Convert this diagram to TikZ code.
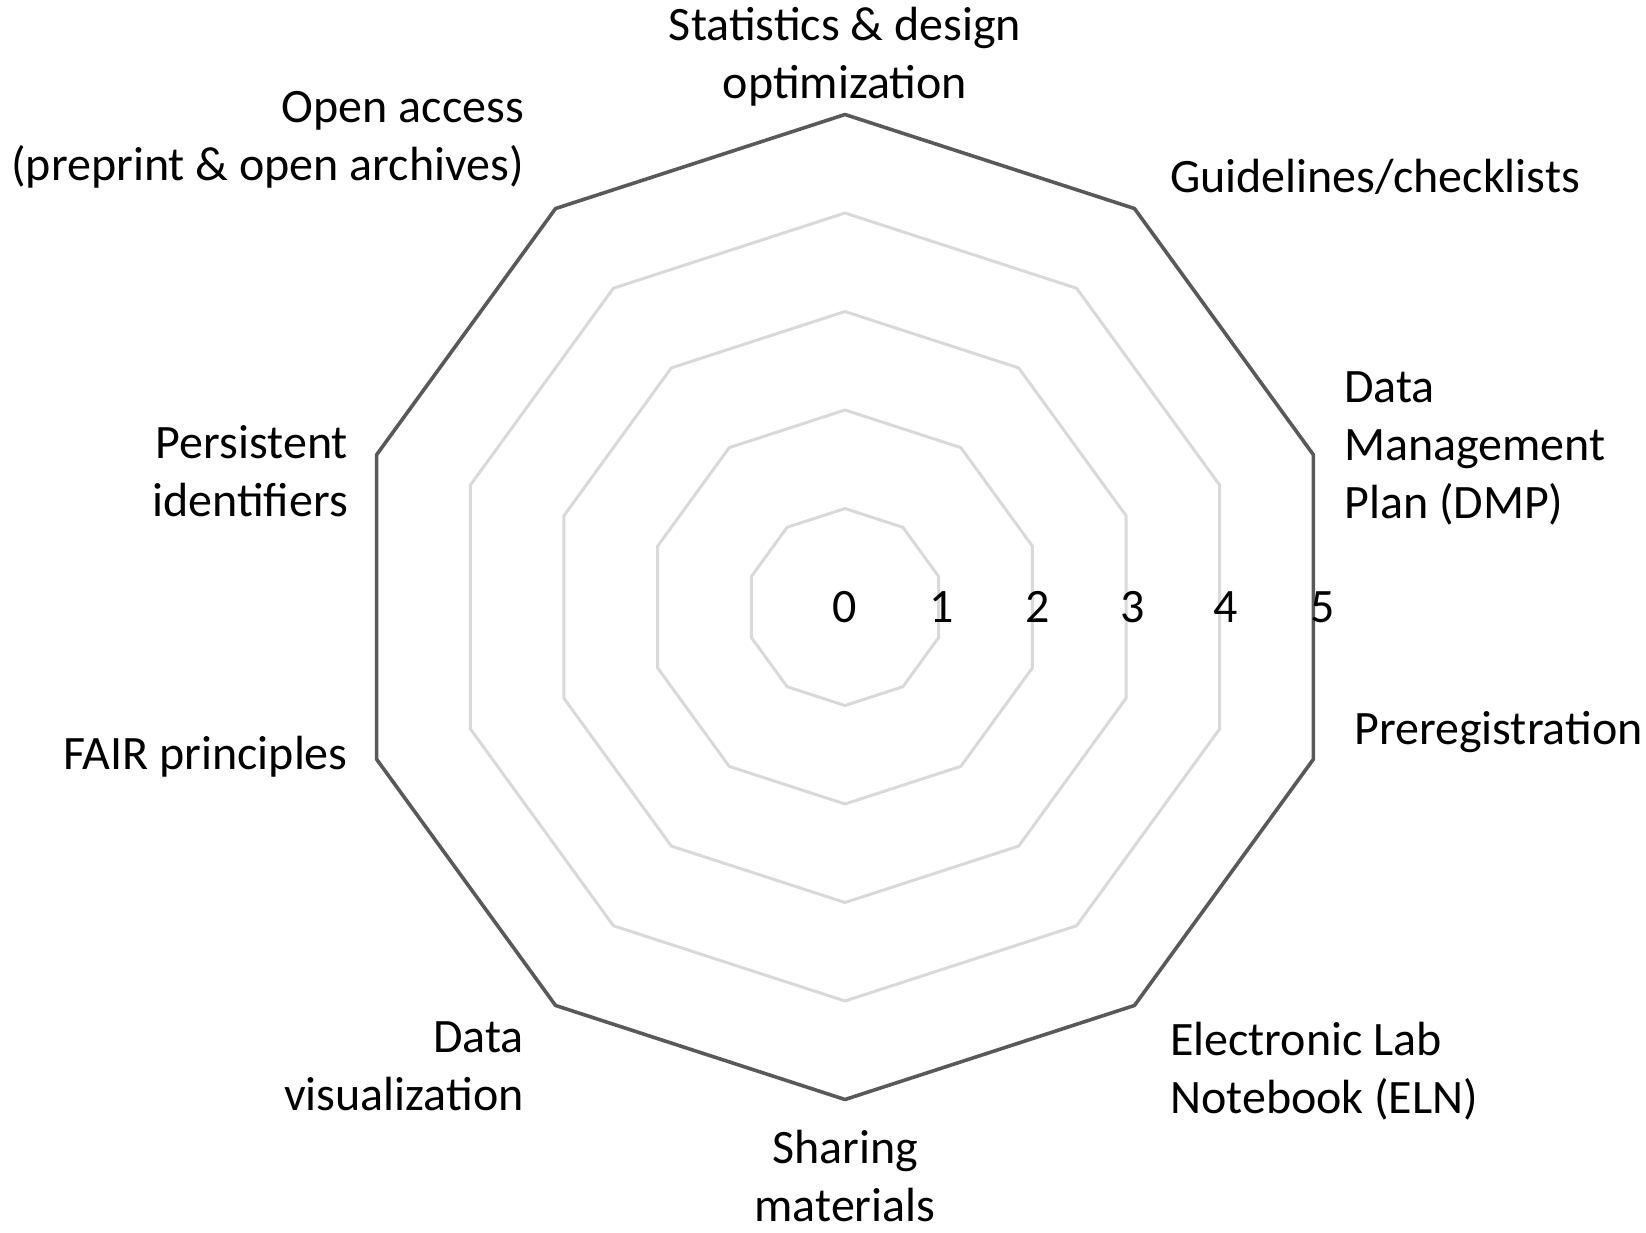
\documentclass[tikz,border=0pt]{standalone}
\usepackage{fontspec}
\setmainfont{Carlito}
\definecolor{ringc}{HTML}{D9D9D9}
\definecolor{outerc}{HTML}{595959}
\begin{document}
\begin{tikzpicture}[x=1pt,y=1pt,
  lbl/.style={font=\fontsize{48}{58}\selectfont, inner sep=0pt},
  ring/.style={draw=ringc, line width=3pt, line join=round},
  outer/.style={draw=outerc, line width=3.6pt, line join=round}]
\useasboundingbox (0,0) rectangle (1646,-1233);
\begin{scope}[shift={(845,-607)}]
  \foreach \k in {1,...,4}
    \draw[ring] (90:\k*98.5) \foreach \a in {126,162,...,414} { -- (\a:\k*98.5)} -- cycle;
  \draw[outer] (90:492.5) \foreach \a in {126,162,...,414} { -- (\a:492.5)} -- cycle;
\end{scope}
% scale labels
\node[lbl] (n0) at (845,-607) {0};
\node[lbl] (n1) at (942,-607) {1};
\node[lbl] (n2) at (1038,-607) {2};
\node[lbl] (n3) at (1133,-607) {3};
\node[lbl] (n4) at (1226,-607) {4};
\node[lbl] (n5) at (1323,-607) {5};
% axis labels
\node[lbl, align=center] (stat) at (845,-57) {Statistics \& design\\optimization};
\node[lbl, align=center] (share) at (845,-1176) {Sharing\\materials};
\node[lbl, align=right, anchor=east] (oa) at (524,-140) {Open access\\(preprint \& open archives)};
\node[lbl, align=left, anchor=west] (guide) at (1170,-177) {Guidelines/checklists};
\node[lbl, align=left, anchor=west] (dmp) at (1344,-448) {Data\\Management\\Plan (DMP)};
\node[lbl, align=left, anchor=west] (prereg) at (1354,-732) {Preregistration};
\node[lbl, align=left, anchor=west] (eln) at (1170,-1071) {Electronic Lab\\Notebook (ELN)};
\node[lbl, align=right, anchor=east] (dvis) at (524,-1066) {Data\\visualization};
\node[lbl, align=right, anchor=east] (fair) at (348,-757) {FAIR principles};
\node[lbl, align=right, anchor=east] (pid) at (348,-471) {Persistent\\identifiers};
\end{tikzpicture}
\end{document}
